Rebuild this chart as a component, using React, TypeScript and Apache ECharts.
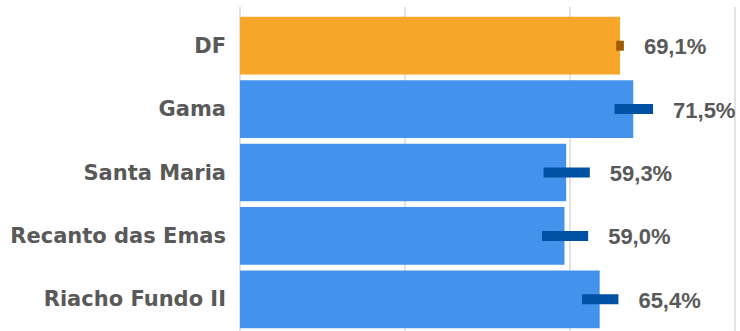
import React, { useEffect, useRef } from "react";
import * as echarts from "echarts";

const categories = ["DF", "Gama", "Santa Maria", "Recanto das Emas", "Riacho Fundo II"];
const values = [69.1, 71.5, 59.3, 59.0, 65.4];
const ciLow = [68.4, 68.1, 55.2, 54.9, 62.2];
const ciHigh = [69.8, 75.1, 63.6, 63.3, 68.8];
const barColors = ["#F8A62A", "#4392EB", "#4392EB", "#4392EB", "#4392EB"];
const ciColors = ["#A05C00", "#0050A4", "#0050A4", "#0050A4", "#0050A4"];
const xTicks = { min: 0, max: 90, interval: 30 };

const fmt = (v: number) => v.toFixed(1).replace(".", ",") + "%";

export default function App() {
  const ref = useRef<HTMLDivElement>(null);
  useEffect(() => {
    if (!ref.current) return;
    const chart = echarts.init(ref.current, null, { renderer: "svg" });
    const ciData = categories.map((_, i) => [i, ciLow[i], ciHigh[i], values[i]]);
    chart.setOption({
      animation: false,
      grid: [
        { left: 240, right: 5, top: 14, bottom: 0, containLabel: false },
        { left: 240, right: 5, top: 7, bottom: 0, containLabel: false },
      ],
      xAxis: [
        {
          type: "value",
          gridIndex: 0,
          ...xTicks,
          axisLabel: { show: false },
          axisLine: { show: false },
          axisTick: { show: false },
          splitLine: { show: false },
        },
        {
          type: "value",
          gridIndex: 1,
          ...xTicks,
          axisLabel: { show: false },
          axisLine: { show: false },
          axisTick: { show: false },
          splitLine: { show: true, lineStyle: { color: "#E3E3E3", width: 2 } },
          z: 0,
        },
      ],
      yAxis: [
        {
          type: "category",
          gridIndex: 0,
          data: categories,
          inverse: true,
          axisLine: { show: false },
          axisTick: { show: false },
          axisLabel: {
            margin: 14,
            color: "#595959",
            fontFamily: "DejaVu Sans",
            fontWeight: "bold",
            fontSize: 21,
          },
        },
        {
          type: "category",
          gridIndex: 1,
          data: categories,
          inverse: true,
          show: false,
        },
      ],
      series: [
        {
          type: "bar",
          xAxisIndex: 0,
          yAxisIndex: 0,
          barCategoryGap: "9%",
          data: values.map((v, i) => ({ value: v, itemStyle: { color: barColors[i] } })),
          z: 2,
        },
        {
          type: "custom",
          xAxisIndex: 0,
          yAxisIndex: 0,
          data: ciData,
          encode: { x: [1, 2], y: 0 },
          z: 3,
          renderItem: (params: any, api: any) => {
            const idx = api.value(0);
            const lo = api.coord([api.value(1), idx]);
            const hi = api.coord([api.value(2), idx]);
            const h = 10;
            return {
              type: "group",
              children: [
                {
                  type: "rect",
                  shape: { x: lo[0], y: lo[1] - h / 2, width: hi[0] - lo[0], height: h },
                  style: { fill: ciColors[params.dataIndex] },
                },
                {
                  type: "text",
                  x: hi[0] + 20,
                  y: hi[1] + 1,
                  style: {
                    text: fmt(api.value(3)),
                    fill: "#595959",
                    font: "bold 22px 'Liberation Sans', Arial, sans-serif",
                    verticalAlign: "middle",
                    align: "left",
                  },
                },
              ],
            };
          },
        },
      ],
    });
    return () => chart.dispose();
  }, []);
  return <div ref={ref} style={{ width: 740, height: 331, position: "absolute", left: 0, top: 0 }} />;
}
